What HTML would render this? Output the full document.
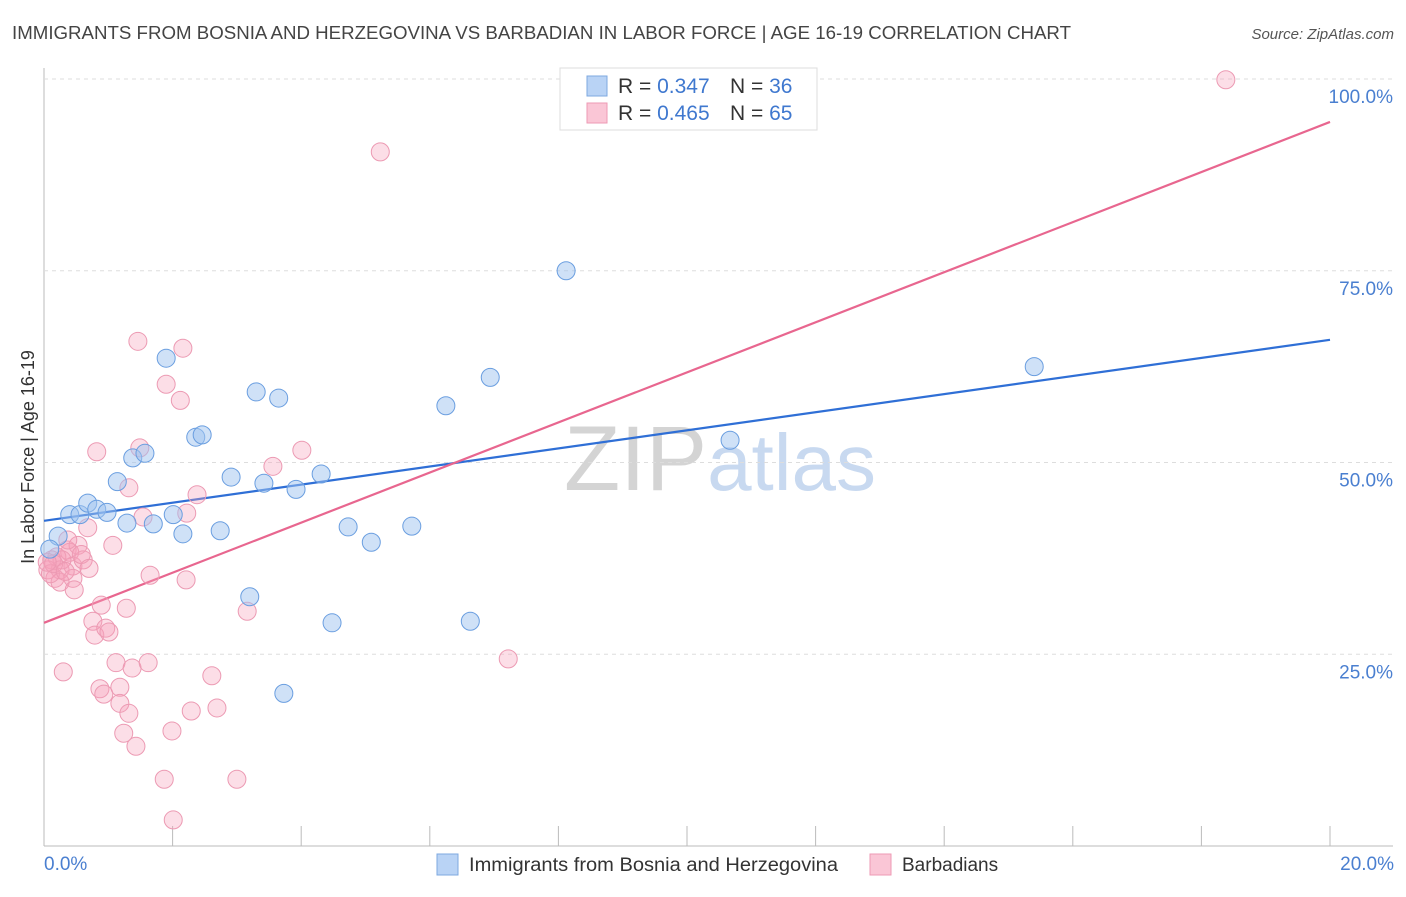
<!DOCTYPE html>
<html><head><meta charset="utf-8"><style>
body{margin:0;background:#fff;font-family:"Liberation Sans",sans-serif;}
svg text{font-family:"Liberation Sans",sans-serif;}
</style></head><body>
<svg id="chart" width="1406" height="892" xmlns="http://www.w3.org/2000/svg">
<text x="12" y="39" font-size="18" fill="#444" textLength="1059" lengthAdjust="spacingAndGlyphs">IMMIGRANTS FROM BOSNIA AND HERZEGOVINA VS BARBADIAN IN LABOR FORCE | AGE 16-19 CORRELATION CHART</text>
<text x="1394" y="39" font-size="15" fill="#555" font-style="italic" text-anchor="end">Source: ZipAtlas.com</text>
<text x="720" y="490" font-size="92" text-anchor="middle" fill="#ddd" font-family="Liberation Serif"><tspan fill="#d4d4d4">ZIP</tspan><tspan fill="#c8d9f0" font-family="Liberation Sans" font-size="80">atlas</tspan></text>
<text transform="translate(34,457) rotate(-90)" font-size="18" fill="#333" text-anchor="middle">In Labor Force | Age 16-19</text>
<line x1="44" y1="68" x2="44" y2="846" stroke="#bbb"/>
<line x1="44" y1="846" x2="1393" y2="846" stroke="#bbb"/>
<g id="grid"></g><g id="ticks"></g><g id="trend"></g><g id="pts"></g>
<g>
<rect x="560" y="68" width="257" height="62" fill="#fff" stroke="#ddd"/>
<rect x="587" y="76" width="20" height="20" fill="#b9d3f5" stroke="#7ea8e0"/>
<rect x="587" y="103" width="20" height="20" fill="#fac6d6" stroke="#ee9ab4"/>
<text x="618" y="93" font-size="21" fill="#333">R = <tspan fill="#3f78cf">0.347</tspan><tspan x="730">N = </tspan><tspan fill="#3f78cf">36</tspan></text>
<text x="618" y="120" font-size="21" fill="#333">R = <tspan fill="#3f78cf">0.465</tspan><tspan x="730">N = </tspan><tspan fill="#3f78cf">65</tspan></text>
</g>
<g>
<rect x="437" y="854" width="21" height="21" fill="#b9d3f5" stroke="#7ea8e0"/>
<text x="469" y="871" font-size="19" fill="#333" textLength="369" lengthAdjust="spacingAndGlyphs">Immigrants from Bosnia and Herzegovina</text>
<rect x="870" y="854" width="21" height="21" fill="#fac6d6" stroke="#ee9ab4"/>
<text x="902" y="871" font-size="19" fill="#333">Barbadians</text>
</g>
<text x="44" y="870" font-size="19" fill="#4a7fd0">0.0%</text>
<text x="1394" y="870" font-size="19" fill="#4a7fd0" text-anchor="end">20.0%</text>
</svg>
<script>
const yTicks=[25,50,75,100];
const yTickLabels=["25.0%","50.0%","75.0%","100.0%"];
const xTicks=[0,2,4,6,8,10,12,14,16,18,20];
const blueX=[0.22,0.40,0.56,0.68,0.82,0.98,1.14,1.29,1.38,1.57,1.70,1.90,2.01,2.16,2.36,2.46,2.74,2.91,3.30,3.42,3.65,3.92,4.31,4.73,5.09,5.72,6.25,6.63,6.94,8.12,4.48,3.20,3.73,10.67,15.40,0.09];
const blueY=[40.4,43.2,43.2,44.7,43.9,43.5,47.5,42.1,50.6,51.2,42.0,63.6,43.2,40.7,53.3,53.6,41.1,48.1,59.2,47.3,58.4,46.5,48.5,41.6,39.6,41.7,57.4,29.3,61.1,75.0,29.1,32.5,19.9,52.9,62.5,38.7];
const pinkX=[18.38,5.23,1.46,2.16,1.90,2.12,0.82,1.49,4.01,3.56,1.32,2.38,1.54,2.22,0.68,1.07,0.36,0.53,0.40,0.20,0.12,0.25,0.45,0.61,0.06,0.17,0.45,0.25,0.47,0.89,1.28,1.65,3.16,2.21,0.76,0.79,0.96,1.01,0.30,1.12,1.37,1.62,2.61,0.87,0.93,1.18,1.18,1.32,1.24,1.43,1.99,2.29,2.69,1.87,3.00,2.01,7.22,0.28,0.37,0.10,0.15,0.05,0.33,0.58,0.70];
const pinkY=[99.9,90.5,65.8,64.9,60.2,58.1,51.4,51.9,51.6,49.5,46.7,45.8,42.9,43.4,41.5,39.2,38.6,39.2,38.3,37.7,37.3,36.0,36.5,37.3,36.0,34.9,34.9,34.4,33.4,31.4,31.0,35.3,30.6,34.7,29.3,27.5,28.4,27.9,22.7,23.9,23.2,23.9,22.2,20.5,19.8,20.7,18.6,17.3,14.7,13.0,15.0,17.6,18.0,8.7,8.7,3.4,24.4,37.3,39.9,35.5,36.8,37.0,35.8,38.0,36.2];
const blueTrend=[42.4,66.0];
const pinkTrend=[29.1,94.4];
const NS="http://www.w3.org/2000/svg";
const X=v=>44+v/20*1286;
const Y=v=>846-v/100*767;
function mk(tag,attrs,parent){const e=document.createElementNS(NS,tag);for(const k in attrs)e.setAttribute(k,attrs[k]);document.getElementById(parent).appendChild(e);return e;}
yTicks.forEach((t,i)=>{
 const g=mk('line',{x1:44,x2:1393,y1:Y(t),y2:Y(t),stroke:'#ddd','stroke-dasharray':'4,4'},'grid');
 
 
 const l=mk('text',{x:1393,y:Y(t)+24,'font-size':19,fill:'#4a7fd0','text-anchor':'end'},'grid');
 l.textContent=yTickLabels[i];
 
 
});
xTicks.forEach(t=>{
 const l=mk('line',{x1:X(t),x2:X(t),y1:826,y2:846,stroke:'#bbb'},'ticks');
 
 
});
const bt=mk('line',{x1:X(0),y1:Y(blueTrend[0]),x2:X(20),y2:Y(blueTrend[1]),stroke:'#2f6fd6','stroke-width':2.2},'trend');


const pt=mk('line',{x1:X(0),y1:Y(pinkTrend[0]),x2:X(20),y2:Y(pinkTrend[1]),stroke:'#e8668f','stroke-width':2.2},'trend');


pinkX.forEach((v,i)=>{
 const c=mk('circle',{cx:X(v),cy:Y(pinkY[i]),r:9,fill:'rgba(245,160,185,0.35)',stroke:'#ec9ab3','stroke-width':1},'pts');
 
 
});
blueX.forEach((v,i)=>{
 const c=mk('circle',{cx:X(v),cy:Y(blueY[i]),r:9,fill:'rgba(160,195,240,0.5)',stroke:'#6a9ee0','stroke-width':1},'pts');
 
 
});
</script>
</body></html>
